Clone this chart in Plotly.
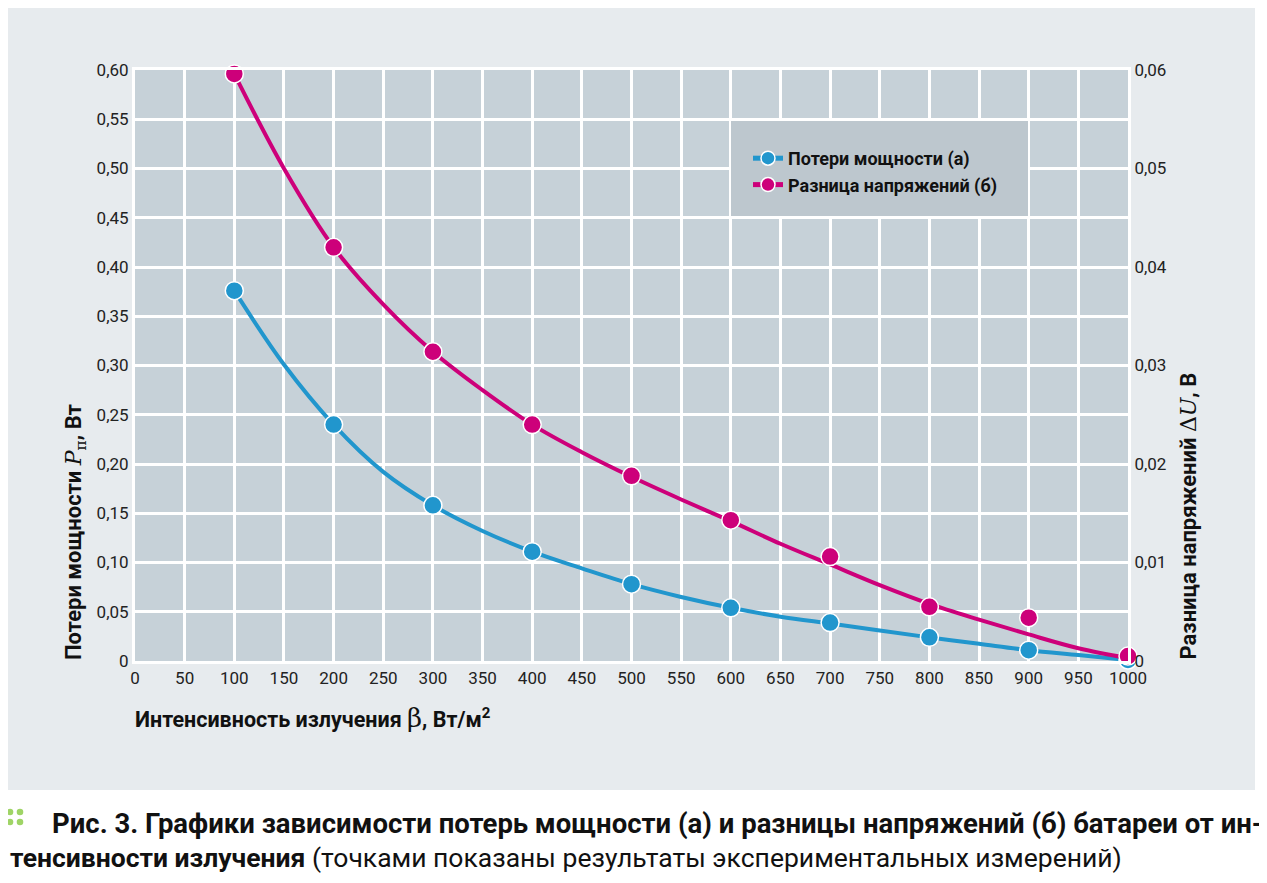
import plotly.graph_objects as go

# ---------------------------------------------------------------------------
# Data
# ---------------------------------------------------------------------------

# measured points, beta in W/m2
beta_points = [100, 200, 300, 400, 500, 600, 700, 800, 900, 1000]
loss_points = [0.376, 0.240, 0.158, 0.111, 0.078, 0.054, 0.039, 0.024, 0.011, 0.001]        # P, W
du_points   = [0.0596, 0.0420, 0.0314, 0.0240, 0.0188, 0.0143, 0.0106, 0.0055, 0.0044, 0.0005]  # dU, V

# fitted curves
beta_curve = [100, 150, 200, 250, 300, 350, 400, 450, 500, 550,
              600, 650, 700, 750, 800, 850, 900, 950, 1000]
loss_curve = [0.376, 0.301, 0.240, 0.192, 0.158, 0.132, 0.111, 0.094, 0.078, 0.065,
              0.054, 0.045, 0.038, 0.031, 0.024, 0.0175, 0.011, 0.006, 0.001]
du_curve   = [0.0596, 0.0500, 0.0420, 0.0362, 0.0314, 0.0275, 0.0240, 0.0212, 0.0187, 0.0164,
              0.0142, 0.0119, 0.0098, 0.0077, 0.0058, 0.0042, 0.0027, 0.0013, 0.0003]

x_ticks  = list(range(0, 1001, 50))
y1_ticks = [0, 0.05, 0.10, 0.15, 0.20, 0.25, 0.30, 0.35, 0.40, 0.45, 0.50, 0.55, 0.60]
y1_text  = ["0", "0,05", "0,10", "0,15", "0,20", "0,25", "0,30", "0,35", "0,40",
            "0,45", "0,50", "0,55", "0,60"]
y2_ticks = [0, 0.01, 0.02, 0.03, 0.04, 0.05, 0.06]
y2_text  = ["0", "0,01", "0,02", "0,03", "0,04", "0,05", "0,06"]

# ---------------------------------------------------------------------------
# Style
# ---------------------------------------------------------------------------
BLUE   = "#2196cd"
PINK   = "#cd007a"
PANEL  = "#e7ebee"
PLOTBG = "#c6d1d8"
LEGBG  = "#bdc7ce"
GREEN  = "#9fd466"

TICK_FONT  = "Roboto, sans-serif"
TITLE_FONT = "Roboto, sans-serif"

OFF = 8                                   # page body margin
W, H = 1267 - OFF, 883 - OFF
L, R, T, B = 135, 1128, 70, 661           # plot area, page pixels


def px(x):
    return (x - L) / (R - L)


def py(y):
    return (B - y) / (B - T)


fig = go.Figure()

# curves
fig.add_trace(go.Scatter(
    x=beta_curve, y=loss_curve, mode="lines", line=dict(color=BLUE, width=4, shape="spline"),
    showlegend=False, cliponaxis=False,
))
fig.add_trace(go.Scatter(
    x=beta_curve, y=du_curve, yaxis="y2", mode="lines",
    line=dict(color=PINK, width=4, shape="spline"),
    showlegend=False, cliponaxis=False,
))

# points
marker_line = dict(color="white", width=1.5)
fig.add_trace(go.Scatter(
    x=beta_points, y=du_points, yaxis="y2", mode="markers",
    marker=dict(color=PINK, size=18, line=marker_line),
    showlegend=False, cliponaxis=False,
))
fig.add_trace(go.Scatter(
    x=beta_points, y=loss_points, mode="markers",
    marker=dict(color=BLUE, size=18, line=marker_line),
    showlegend=False, cliponaxis=False,
))

# legend entries
fig.add_trace(go.Scatter(
    x=[None], y=[None], mode="lines+markers", name="Потери мощности (а)",
    line=dict(color=BLUE, width=5), marker=dict(color=BLUE, size=14, line=marker_line),
))
fig.add_trace(go.Scatter(
    x=[None], y=[None], mode="lines+markers", name="Разница напряжений (б)",
    line=dict(color=PINK, width=5), marker=dict(color=PINK, size=14, line=marker_line),
))

shapes = [
    # grey panel behind the chart
    dict(type="rect", xref="paper", yref="paper", layer="below",
         x0=px(8), x1=px(1255), y0=py(790), y1=py(8),
         fillcolor=PANEL, line=dict(width=0)),
    # plot area
    dict(type="rect", xref="paper", yref="paper", layer="below",
         x0=0, x1=1, y0=0, y1=1, fillcolor=PLOTBG, line=dict(width=0)),
    # legend box
    dict(type="rect", xref="paper", yref="paper", layer="above",
         x0=px(731), x1=px(1028), y0=py(216), y1=py(121),
         fillcolor=LEGBG, line=dict(width=0)),
]
# green dots of the caption
for cx in (10, 20):
    for cy in (812, 822):
        shapes.append(dict(type="circle", xref="paper", yref="paper",
                           x0=px(cx - 3.3), x1=px(cx + 3.3), y0=py(cy + 3.3), y1=py(cy - 3.3),
                           fillcolor=GREEN, line=dict(width=0)))

serif = "font-family:'DejaVu Serif', 'Liberation Serif', serif; font-weight:normal"
annotations = [
    dict(text=f"Потери мощности <span style=\"{serif}; font-style:italic\">P</span>"
              f"<sub><span style=\"{serif}\">п</span></sub>, Вт",
         xref="paper", yref="paper", x=px(75), y=py(662), xanchor="center", yanchor="bottom",
         textangle=-90, showarrow=False,
         font=dict(family=TITLE_FONT, size=22, color="#111", weight="bold")),
    dict(text=f"Разница напряжений <span style=\"{serif}\">Δ</span>"
              f"<span style=\"{serif}; font-style:italic\">U</span>, В",
         xref="paper", yref="paper", x=px(1188), y=py(662), xanchor="center", yanchor="bottom",
         textangle=-90, showarrow=False,
         font=dict(family=TITLE_FONT, size=22, color="#111", weight="bold")),
    dict(text=f"Интенсивность излучения <span style=\"{serif}; font-size:26px\">β</span>, Вт/м<sup>2</sup>",
         xref="paper", yref="paper", x=px(133), y=py(718), xanchor="left", yanchor="middle",
         showarrow=False,
         font=dict(family=TITLE_FONT, size=21.5, color="#111", weight="bold")),
    dict(text="Рис. 3. Графики зависимости потерь мощности (а) и разницы напряжений (б) батареи от ин-",
         xref="paper", yref="paper", x=px(50), y=py(823), xanchor="left", yanchor="middle",
         showarrow=False,
         font=dict(family=TITLE_FONT, size=27.5, color="#111", weight="bold")),
    dict(text="<b>тенсивности излучения</b> (точками показаны результаты экспериментальных измерений)",
         xref="paper", yref="paper", x=px(8), y=py(857), xanchor="left", yanchor="middle",
         showarrow=False,
         font=dict(family=TITLE_FONT, size=26.5, color="#111")),
]

axis_common = dict(
    showline=True, linecolor="white", linewidth=3, mirror=True,
    tickfont=dict(family=TICK_FONT, size=17, color="#222"),
    zeroline=False, ticks="",
)

fig.update_layout(
    width=W, height=H,
    margin=dict(l=L - OFF, r=W - (R - OFF), t=T - OFF, b=H - (B - OFF)),
    paper_bgcolor="white",
    plot_bgcolor="rgba(0,0,0,0)",
    font=dict(family=TITLE_FONT),
    xaxis=dict(range=[0, 1000], tickvals=x_ticks, showgrid=True, gridcolor="white", gridwidth=3,
               **axis_common),
    yaxis=dict(range=[0, 0.6], tickvals=y1_ticks, ticktext=y1_text, showgrid=True,
               gridcolor="white", gridwidth=3, **axis_common),
    yaxis2=dict(range=[0, 0.06], tickvals=y2_ticks, ticktext=y2_text, overlaying="y", side="right",
                showgrid=False, **axis_common),
    legend=dict(x=px(748), y=py(140), xanchor="left", yanchor="top",
                bgcolor="rgba(0,0,0,0)", itemwidth=30, tracegroupgap=0,
                font=dict(family=TITLE_FONT, size=18, color="#111", weight="bold")),
    shapes=shapes,
    annotations=annotations,
)

fig.write_html("out.html")
